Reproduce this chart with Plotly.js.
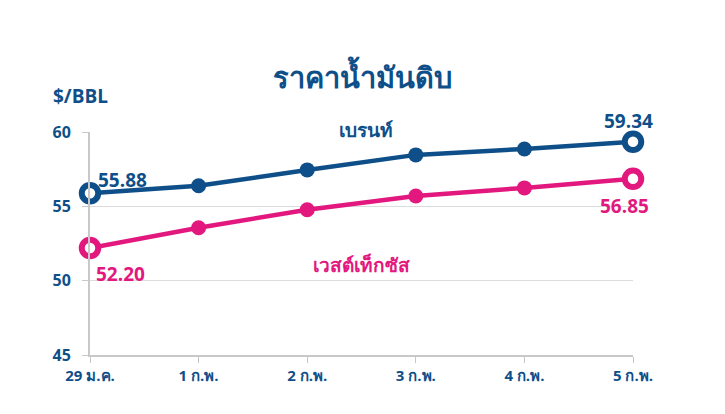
<!DOCTYPE html>
<html><head><meta charset="utf-8">
<script src="https://cdn.plot.ly/plotly-3.0.1.min.js"></script>
<style>html,body{margin:0;padding:0;background:#fff;}#c{width:725px;height:414px;}</style>
</head><body><div id="c"></div>
<script>
const categories = ["29 ม.ค.", "1 ก.พ.", "2 ก.พ.", "3 ก.พ.", "4 ก.พ.", "5 ก.พ."];
const brent = [55.88, 56.38, 57.45, 58.46, 58.86, 59.34];
const wti = [52.20, 53.56, 54.77, 55.70, 56.24, 56.85];
const yTicks = [45, 50, 55, 60];
const seriesNames = ["เบรนท์", "เวสต์เท็กซัส"];

const BLUE = "#0e4f89", PINK = "#e2187f";
const F = "Open Sans, Noto Sans, sans-serif";

function mk(vals, color) {
  const n = vals.length;
  const isEnd = i => (i === 0 || i === n - 1);
  return {
    x: categories, y: vals, type: "scatter", mode: "lines+markers", cliponaxis: false,
    line: {color: color, width: 4.5},
    marker: {
      opacity: 1,
      size: vals.map((v, i) => isEnd(i) ? 16.5 : 15),
      color: vals.map((v, i) => isEnd(i) ? "#fff" : color),
      line: {color: color, width: vals.map((v, i) => isEnd(i) ? 6 : 0)}
    },
    hoverinfo: "skip", showlegend: false
  };
}

const fmt = v => v.toFixed(2);
const last = categories.length - 1;
const annotations = [
  {x: categories[0], y: brent[0], text: fmt(brent[0]), xanchor: "left", yanchor: "middle", xshift: 6, yshift: 13, font: {color: BLUE}},
  {x: categories[last], y: brent[last], text: fmt(brent[last]), xanchor: "center", yanchor: "middle", xshift: -5, yshift: 21, font: {color: BLUE}},
  {x: categories[0], y: wti[0], text: fmt(wti[0]), xanchor: "left", yanchor: "middle", xshift: 4, yshift: -26, font: {color: PINK}},
  {x: categories[last], y: wti[last], text: fmt(wti[last]), xanchor: "center", yanchor: "middle", xshift: -9, yshift: -27, font: {color: PINK}},
  {xref: "paper", yref: "paper", x: 0.508, y: 1.0, text: seriesNames[0], xanchor: "center", yanchor: "middle", yshift: 2, font: {color: BLUE}},
  {xref: "paper", yref: "paper", x: 0.5, y: 0.405, text: seriesNames[1], xanchor: "center", yanchor: "middle", font: {color: PINK}},
  {xref: "paper", yref: "paper", x: -0.072, y: 1.0, text: "$/BBL", xanchor: "left", yanchor: "middle", yshift: 36, font: {color: BLUE, size: 19}}
].map(a => Object.assign({showarrow: false, xref: "x", yref: "y"}, a));
annotations.forEach(a => { a.font = {family: F, weight: "bold", size: a.font.size || 19, color: a.font.color}; });

const layout = {
  width: 725, height: 414,
  margin: {l: 90, r: 92, t: 132, b: 59},
  paper_bgcolor: "#fff", plot_bgcolor: "#fff",
  title: {text: "ราคาน้ำมันดิบ", x: 0.5, xanchor: "center", y: 0.812, yanchor: "middle",
    font: {family: F, size: 29, color: BLUE, weight: "bold"}},
  xaxis: {
    type: "category", range: [0, last], showgrid: false, zeroline: false,
    showline: true, linecolor: "#c8c8c8", linewidth: 2,
    ticks: "outside", ticklen: 6, tickcolor: "#c8c8c8", tickwidth: 1,
    tickfont: {family: F, size: 15, color: BLUE, weight: "bold"}
  },
  yaxis: {
    range: [45, 60], tickvals: yTicks, ticktext: yTicks.map(String),
    showgrid: true, gridcolor: "#dcdcdc", gridwidth: 1.5, zeroline: false,
    showline: true, linecolor: "#c8c8c8", linewidth: 2,
    ticks: "outside", ticklen: 6, tickcolor: "#c8c8c8", ticklabelstandoff: 8,
    tickfont: {family: F, size: 16, color: BLUE, weight: "bold"}
  },
  annotations: annotations
};

Plotly.newPlot("c", [mk(brent, BLUE), mk(wti, PINK)], layout, {displayModeBar: false, staticPlot: true});
</script></body></html>
